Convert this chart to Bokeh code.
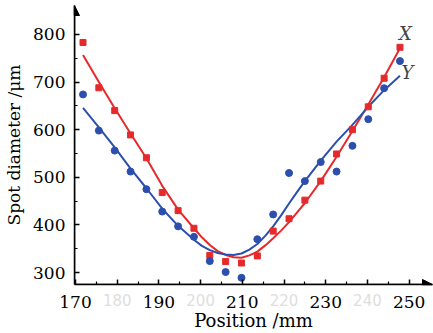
from bokeh.plotting import figure
from bokeh.models import Range1d, FixedTicker, Arrow, NormalHead, Label, LinearAxis
from bokeh.embed import file_html
from bokeh.resources import INLINE

# measured points
position = [171.8, 175.6, 179.4, 183.2, 187.0, 190.8, 194.6, 198.4, 202.2, 206.0, 209.8,
            213.6, 217.4, 221.2, 225.0, 228.8, 232.6, 236.4, 240.2, 244.0, 247.8]
spot_x = [783, 688, 640, 589, 541, 468, 430, 393, 336, 323, 320,
          335, 387, 413, 452, 492, 549, 600, 648, 708, 773]
spot_y = [674, 598, 556, 512, 475, 428, 397, 375, 324, 301, 289,
          370, 422, 509, 492, 532, 512, 566, 622, 687, 744]

# fitted curves
fit_pos = [171.8, 175.6, 179.4, 183.2, 187.0, 190.8, 194.6, 198.4, 200.3, 202.2, 204.1,
           206.0, 207.9, 209.8, 211.7, 213.6, 215.5, 217.4, 219.3, 221.2, 223.1, 225.0,
           228.8, 232.6, 236.4, 240.2, 244.0, 247.8]
fit_x = [757, 700, 645, 592, 540, 482, 432, 393, 374, 358, 345,
         337, 332, 331, 336, 344, 357, 372, 388, 406, 426, 446,
         492, 543, 597, 653, 710, 771]
fit_y = [646, 605, 563, 518, 477, 434, 398, 369, 356, 347, 341,
         338, 337, 340, 348, 360, 377, 397, 420, 445, 469, 492,
         535, 575, 610, 648, 683, 713]

x_major_ticks = [170, 190, 210, 230, 250]
x_faint_ticks = [180, 200, 220, 240]
x_minor_ticks = [175, 185, 195, 205, 215, 225, 235, 245]
y_major_ticks = [300, 400, 500, 600, 700, 800]
y_minor_ticks = [350, 450, 550, 650, 750]

RED = "#e62a2c"
BLUE = "#2c4fae"
FONT = "DejaVu Serif"

x0, x1 = 169.76, 255.6
y0, y1 = 274.9, 860.7

p = figure(width=433, height=333, x_range=Range1d(x0, x1), y_range=Range1d(y0, y1),
           output_backend="svg", toolbar_location=None,
           min_border_left=74, min_border_right=1, min_border_top=5, min_border_bottom=49)
p.outline_line_color = None
p.grid.grid_line_color = None

for ax in (p.xaxis[0], p.yaxis[0]):
    ax.axis_line_width = 1.5
    ax.major_tick_line_width = 1.5
    ax.minor_tick_line_width = 1.2
    ax.major_tick_in = 5
    ax.major_tick_out = 0
    ax.minor_tick_in = 3
    ax.minor_tick_out = 0
    ax.axis_label_text_font = FONT
    ax.axis_label_text_font_style = "normal"
    ax.axis_label_text_color = "black"

# axis next to the frame: line, ticks and the faint intermediate labels
xa = p.xaxis[0]
xa.ticker = FixedTicker(ticks=x_major_ticks + x_faint_ticks, minor_ticks=x_minor_ticks)
xa.major_label_overrides = {t: "" for t in x_major_ticks}
xa.major_label_text_font = "DejaVu Sans"
xa.major_label_text_font_size = "15px"
xa.major_label_text_color = "#dedede"
xa.major_label_standoff = 9

# second axis: the dark labels and the title, pulled up onto the same row
xb = LinearAxis(ticker=FixedTicker(ticks=x_major_ticks, minor_ticks=[]))
xb.axis_line_color = None
xb.major_tick_line_color = None
xb.minor_tick_line_color = None
xb.major_label_text_font = FONT
xb.major_label_text_font_size = "17px"
xb.major_label_text_color = "black"
xb.major_label_standoff = -19
xb.axis_label = "Position /mm"
xb.axis_label_text_font = FONT
xb.axis_label_text_font_style = "normal"
xb.axis_label_text_font_size = "18px"
xb.axis_label_text_color = "black"
xb.axis_label_standoff = -1
p.add_layout(xb, "below")

ya = p.yaxis[0]
ya.ticker = FixedTicker(ticks=y_major_ticks, minor_ticks=y_minor_ticks)
ya.major_label_text_font = FONT
ya.major_label_text_font_size = "17px"
ya.major_label_text_color = "black"
ya.major_label_standoff = 9
ya.axis_label = "Spot diameter /μm"
ya.axis_label_text_font_size = "17px"
ya.axis_label_standoff = 6

p.line(fit_pos, fit_x, line_color=RED, line_width=2, line_join="round")
p.line(fit_pos, fit_y, line_color=BLUE, line_width=2, line_join="round")
p.scatter(position, spot_x, marker="square", size=6, fill_color=RED, line_color=RED)
p.scatter(position, spot_y, marker="circle", size=7, fill_color=BLUE, line_color=BLUE)

p.add_layout(Label(x=position[-1] + 1.3, y=spot_x[-1] + 28, text="X", text_font=FONT,
                   text_font_style="italic", text_font_size="18px",
                   text_align="center", text_baseline="middle"))
p.add_layout(Label(x=position[-1] + 1.8, y=fit_y[-1] + 8, text="Y", text_font=FONT,
                   text_font_style="italic", text_font_size="18px",
                   text_align="center", text_baseline="middle"))

p.add_layout(Arrow(end=NormalHead(size=10, fill_color="black", line_color="black"),
                   x_start=x0, y_start=y0, x_end=x1, y_end=y0, line_width=1.5))
p.add_layout(Arrow(end=NormalHead(size=10, fill_color="black", line_color="black"),
                   x_start=x0, y_start=y0, x_end=x0, y_end=y1, line_width=1.5))

open("out.html", "w").write(file_html(p, INLINE))
